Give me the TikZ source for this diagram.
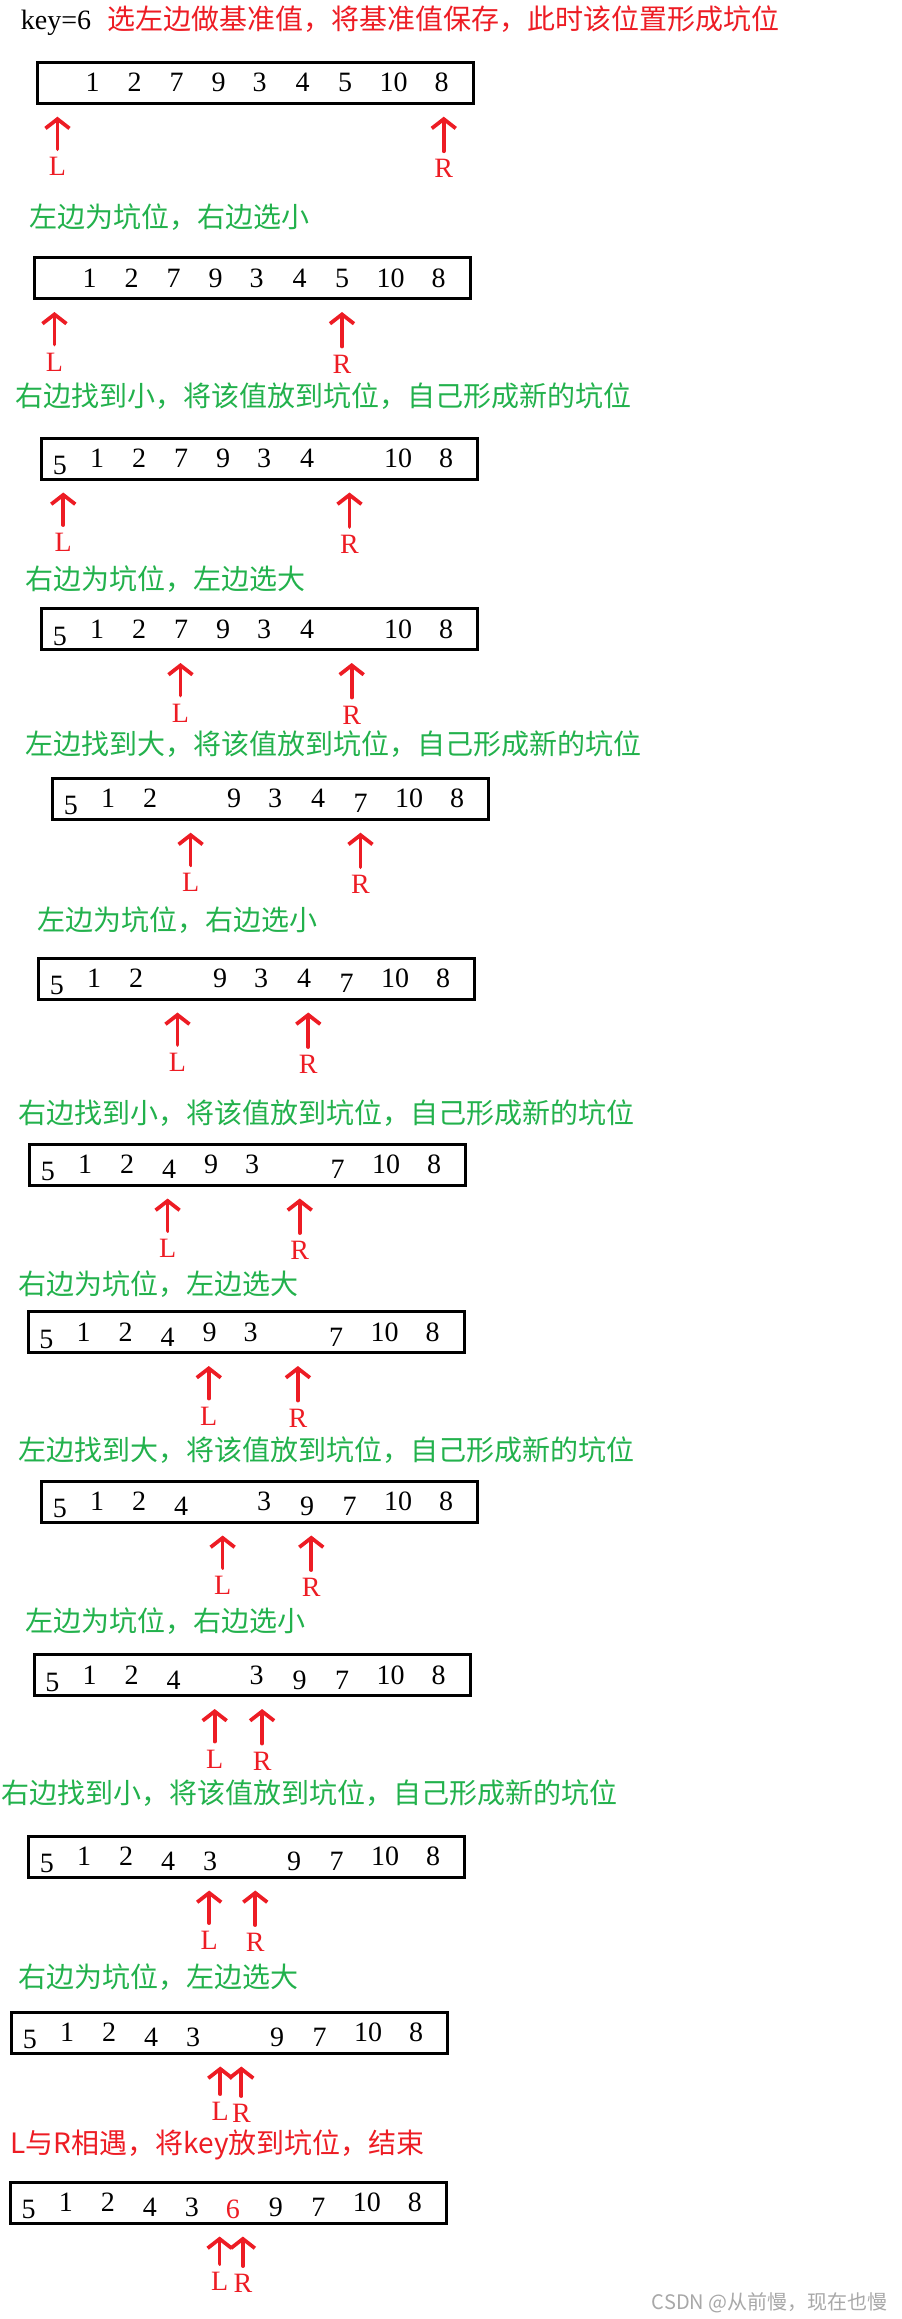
\documentclass[tikz,border=0pt]{standalone}
\usepackage{fontspec}
\setmainfont{Liberation Serif}
\newfontfamily\cjkfont{Noto Sans CJK SC}
\usepackage{xcolor}
\usepackage{tikz}
\usetikzlibrary{positioning,calc,arrows.meta}
\definecolor{PaintRed}{HTML}{ED1C24}
\definecolor{PaintGreen}{HTML}{22B14C}
\definecolor{MarkGray}{HTML}{A8A8A8}

\tikzset{
  arraybox/.style={draw=black, line width=2.25pt, minimum width=327pt, minimum height=30.75pt, inner sep=0pt},
  cell/.style={inner sep=0pt, font=\fontsize{21}{24}\selectfont},
  ptr/.style={draw=PaintRed, line width=2.8pt, line cap=round, -{Straight Barb[length=7pt,width=18pt]}, shorten <=6pt},
  ptrlabel/.style={inner sep=0pt, text=PaintRed, font=\fontsize{21}{24}\selectfont},
  greennote/.style={inner sep=0pt, anchor=west, text=PaintGreen, font=\cjkfont\fontsize{21}{24}\selectfont},
  rednote/.style={inner sep=0pt, text=PaintRed, font=\cjkfont\fontsize{21}{24}\selectfont},
  keytext/.style={inner sep=0pt, font=\fontsize{21}{24}\selectfont},
  watermark/.style={inner sep=0pt, text=MarkGray, font=\cjkfont\fontsize{15}{17}\selectfont}
}

% gap from arrow tip down to its letter
\newcommand{\lbldrop}{50}

% one row: id, left, top, cells (slot/value/drop), L and R as part of the width
\newcommand{\qsrow}[6]{%
  \node[arraybox] (box#1) at (#2+219.5,#3+22) {};
  \foreach \s/\v/\d in {#4}{
    \pgfmathsetmacro{\cx}{{19.8,57,99,141,183,224,267,309.5,358,406}[\s]}
    \node[cell] (box#1-\s) at ($(box#1.west)+(\cx,\d)$) {\v};
  }
  \coordinate (box#1-Lt) at ($(box#1.south west)+(#5*439,12)$);
  \coordinate (box#1-Rt) at ($(box#1.south west)+(#6*439,12)$);
  \node[ptrlabel] (box#1-L) at ($(box#1-Lt)+(0,\lbldrop)$) {L};
  \node[ptrlabel] (box#1-R) at ($(box#1-Rt)+(0,\lbldrop+2)$) {R};
  \draw[ptr] (box#1-L) -- (box#1-Lt);
  \draw[ptr] (box#1-R) -- (box#1-Rt);
}

\begin{document}
\begin{tikzpicture}[x=0.75pt, y=-0.75pt]
  \useasboundingbox (0,0) rectangle (901,2319);

  \node[keytext, anchor=base west] (key) at (20.7,30) {key=6};
  \node[rednote, base right=12pt of key] (h1) {选左边做基准值，将基准值保存，此时该位置形成坑位};
  \qsrow{1}{35.5}{60.7}{1/1/0,2/2/0,3/7/0,4/9/0,5/3/0,6/4/0,7/5/0,8/10/0,9/8/0}{0.05}{0.93}

  \node[greennote] (h2) at (29.6,217) {左边为坑位，右边选小};
  \qsrow{2}{32.5}{256}{1/1/0,2/2/0,3/7/0,4/9/0,5/3/0,6/4/0,7/5/0,8/10/0,9/8/0}{0.05}{0.705}

  \node[greennote] (h3) at (14.8,396.5) {右边找到小，将该值放到坑位，自己形成新的坑位};
  \qsrow{3}{40}{436.5}{0/5/7,1/1/0,2/2/0,3/7/0,4/9/0,5/3/0,6/4/0,8/10/0,9/8/0}{0.053}{0.705}

  \node[greennote] (h4) at (25,579) {右边为坑位，左边选大};
  \qsrow{4}{40}{607}{0/5/7,1/1/0,2/2/0,3/7/0,4/9/0,5/3/0,6/4/0,8/10/0,9/8/0}{0.32}{0.71}

  \node[greennote] (h5) at (25,744) {左边找到大，将该值放到坑位，自己形成新的坑位};
  \qsrow{5}{51}{776.7}{0/5/7,1/1/0,2/2/0,4/9/0,5/3/0,6/4/0,7/7/5,8/10/0,9/8/0}{0.318}{0.705}

  \node[greennote] (h6) at (37,920) {左边为坑位，右边选小};
  \qsrow{6}{37}{956.5}{0/5/7,1/1/0,2/2/0,4/9/0,5/3/0,6/4/0,7/7/5,8/10/0,9/8/0}{0.32}{0.618}

  \node[greennote] (h7) at (17.8,1112.6) {右边找到小，将该值放到坑位，自己形成新的坑位};
  \qsrow{7}{28}{1142.5}{0/5/7,1/1/0,2/2/0,3/4/5,4/9/0,5/3/0,7/7/5,8/10/0,9/8/0}{0.318}{0.619}

  \node[greennote] (h8) at (17.8,1284) {右边为坑位，左边选大};
  \qsrow{8}{26.6}{1310}{0/5/7,1/1/0,2/2/0,3/4/5,4/9/0,5/3/0,7/7/5,8/10/0,9/8/0}{0.415}{0.618}

  \node[greennote] (h9) at (17.8,1450) {左边找到大，将该值放到坑位，自己形成新的坑位};
  \qsrow{9}{40}{1479.5}{0/5/7,1/1/0,2/2/0,3/4/5,5/3/0,6/9/5,7/7/5,8/10/0,9/8/0}{0.416}{0.618}

  \node[greennote] (h10) at (25,1621.5) {左边为坑位，右边选小};
  \qsrow{10}{32.5}{1653}{0/5/7,1/1/0,2/2/0,3/4/5,5/3/0,6/9/5,7/7/5,8/10/0,9/8/0}{0.415}{0.523}

  \node[greennote] (h11) at (1.5,1793) {右边找到小，将该值放到坑位，自己形成新的坑位};
  \qsrow{11}{27}{1834.5}{0/5/7,1/1/0,2/2/0,3/4/5,4/3/5,6/9/5,7/7/5,8/10/0,9/8/0}{0.415}{0.52}

  \node[greennote] (h12) at (17.8,1977) {右边为坑位，左边选大};
  \renewcommand{\lbldrop}{45}
  \qsrow{12}{10}{2010.5}{0/5/7,1/1/0,2/2/0,3/4/5,4/3/5,6/9/5,7/7/5,8/10/0,9/8/0}{0.479}{0.527}

  \node[rednote, anchor=west] (h13) at (10.4,2145) {L与R相遇，将key放到坑位，结束};
  \qsrow{13}{8.9}{2180.5}{0/5/7,1/1/0,2/2/0,3/4/5,4/3/5,5/{\color{PaintRed}6}/7,6/9/5,7/7/5,8/10/0,9/8/0}{0.48}{0.533}

  \node[watermark, anchor=east] (mark) at (888,2303) {CSDN @从前慢，现在也慢};
\end{tikzpicture}
\end{document}
